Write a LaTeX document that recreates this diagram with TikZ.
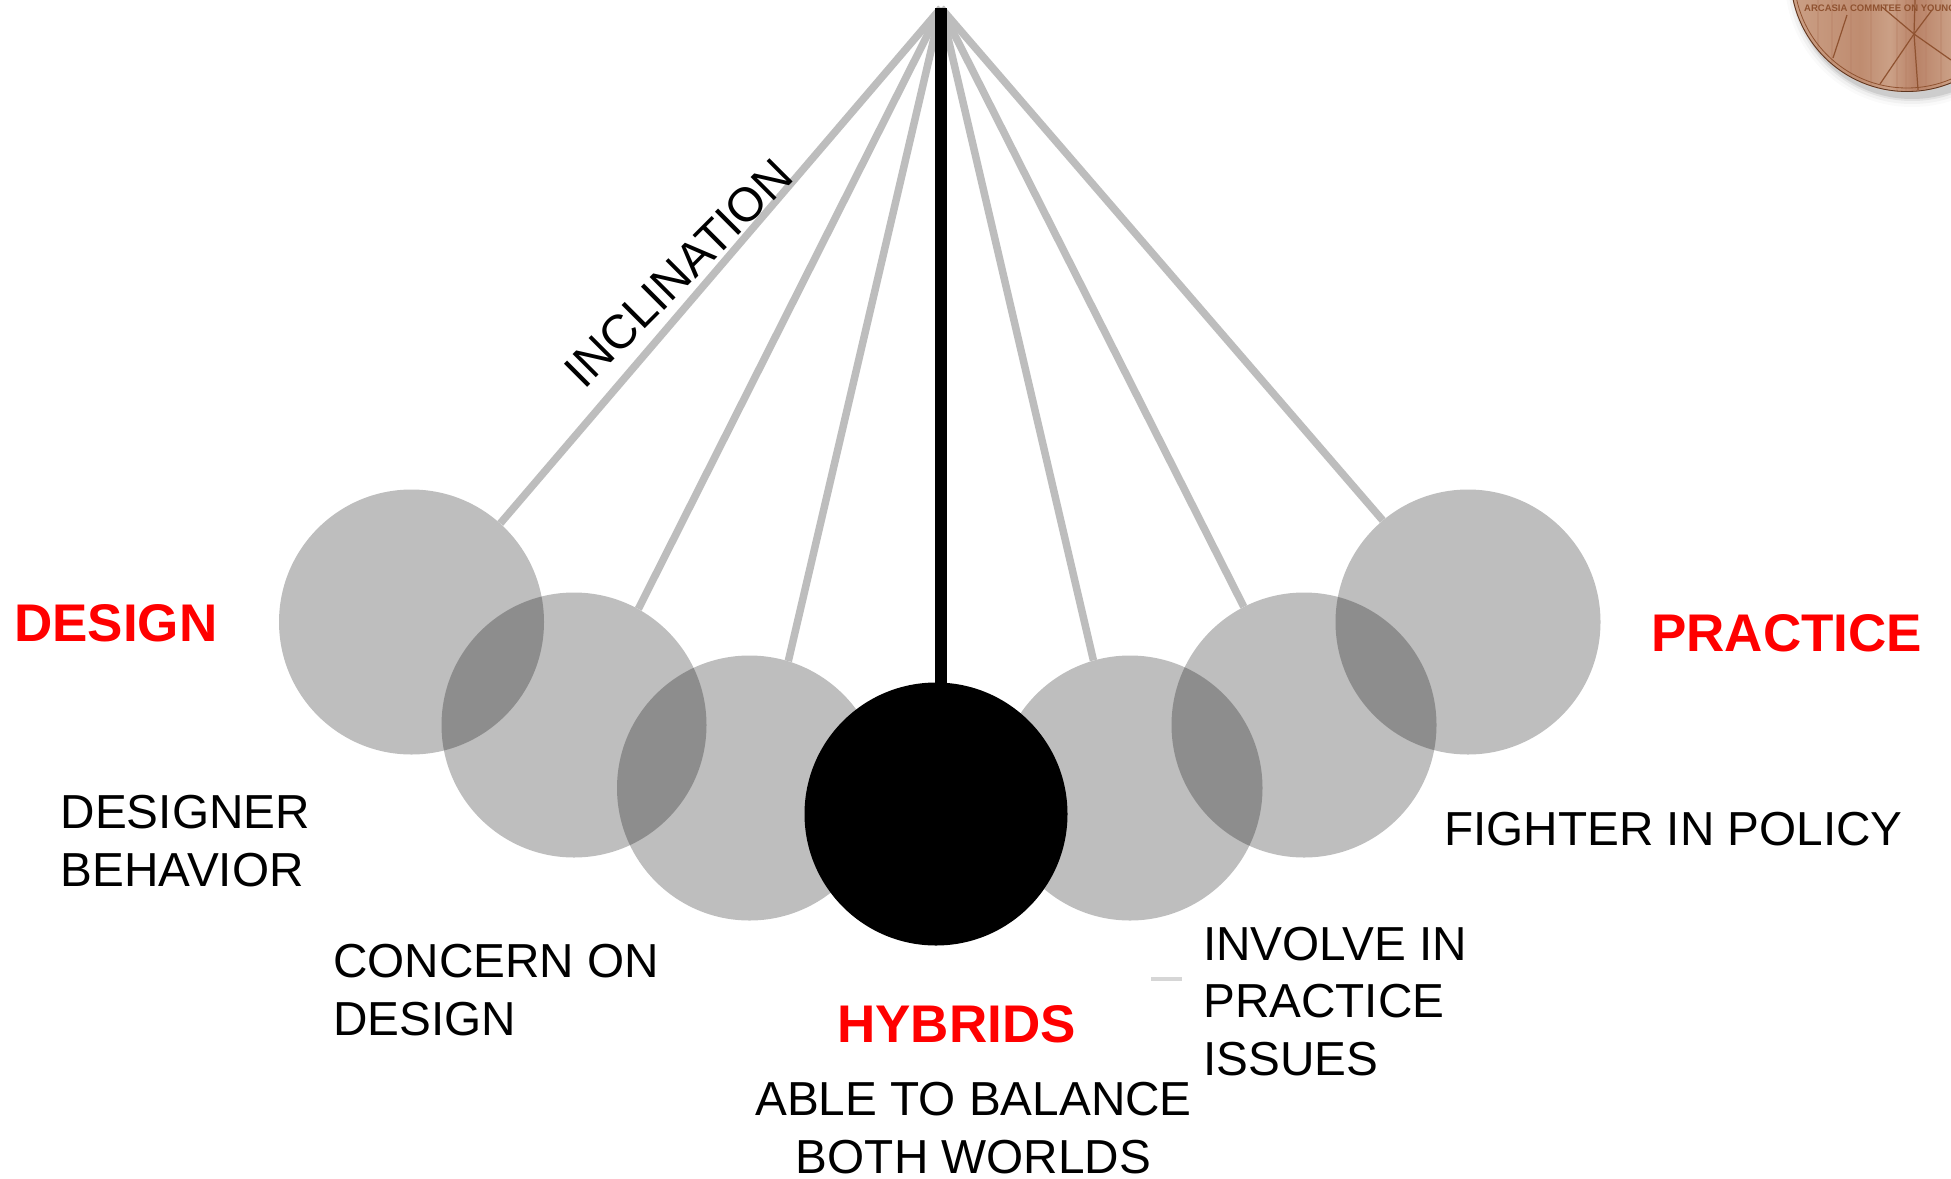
\documentclass[tikz,border=0pt]{standalone}
\usepackage{fontspec}
\setmainfont{Liberation Sans}
\definecolor{linegray}{gray}{0.74}
\definecolor{woodmid}{HTML}{BF8C70}
\definecolor{woodlight}{HTML}{CBA086}
\definecolor{wooddark}{HTML}{B98267}
\definecolor{woodline}{HTML}{8F5230}
\tikzset{
  x=1pt,y=-1pt,
  ball/.style={circle,minimum size=265pt,inner sep=0pt,fill=black,fill opacity=0.255,draw=none},
  blackball/.style={circle,minimum size=263pt,inner sep=0pt,fill=black,draw=none},
  rod/.style={line width=7.5pt,draw=linegray},
  blackrod/.style={line width=12pt,draw=black},
  lab/.style={font=\fontsize{47.7}{57.5}\selectfont,anchor=base west,inner sep=0pt,align=left,text=black},
  head/.style={font=\fontsize{53}{60}\selectfont\bfseries,anchor=base west,inner sep=0pt,text=red},
  cut/.style={line width=1.2pt,draw=woodline},
}
\begin{document}
\begin{tikzpicture}
\useasboundingbox (0,0) rectangle (1951,1178);
\fill[white] (0,0) rectangle (1951,1178);
% disc with shadow
\begin{scope}
\clip (0,0) rectangle (1951,1178);
\foreach \r/\o in {127/0.02,124/0.035,121/0.06,119/0.09}{
  \fill[black,opacity=\o] (1912,-20) circle[radius=\r];
}
\fill[woodmid] (1907,-25) circle[radius=117];
\begin{scope}
\clip (1907,-25) circle[radius=116];
\shade[left color=woodlight,right color=woodmid] (1790,-25) rectangle (1860,95);
\shade[left color=woodmid,right color=woodlight] (1860,-25) rectangle (1890,95);
\shade[left color=woodlight,right color=wooddark] (1890,-25) rectangle (1915,95);
\shade[left color=wooddark,right color=woodlight] (1915,-25) rectangle (1951,95);
\foreach \gx in {1818,1832,1851,1871,1897,1906,1926,1941}{
  \draw[wooddark,line width=1.5pt,opacity=0.4] (\gx,0) -- (\gx,95);
}
\node[inner sep=0pt,anchor=base west,text=woodline,font=\fontsize{9.5}{10}\selectfont\bfseries] (disctext) at (1804,11) {ARCASIA COMMITEE ON YOUNG};
\coordinate (hub) at (1914,34);
\coordinate (s1) at (1880,84);
\coordinate (s2) at (1918,90);
\coordinate (s3) at (1951,60);
\coordinate (s4) at (1915,0);
\coordinate (s5) at (1932,10);
\coordinate (s6) at (1882,7);
\coordinate (s7) at (1847,15);
\coordinate (s8) at (1833,58);
\foreach \e in {s1,s2,s3,s4,s5,s6}{\draw[cut] (hub) -- (\e);}
\draw[cut] (s7) -- (s8);
\draw[woodline,line width=0.8pt] (1907,-25) circle[radius=113];
\end{scope}
\draw[black!35!woodline,line width=0.8pt] (1907,-25) circle[radius=116.5];
\end{scope}
% pendulum
\coordinate (apex) at (941,8);
\coordinate (blacktop) at (941,700);
\node[ball] (c1) at (411.5,622) {};
\node[ball] (c2) at (574,725) {};
\node[ball] (c3) at (749.5,788) {};
\node[ball] (c5) at (1130,788) {};
\node[ball] (c6) at (1304,725) {};
\node[ball] (c7) at (1468,622) {};
\node[blackball] (c4) at (936,814) {};
\foreach \c/\a in {c1/48.7,c2/61.2,c3/73.9,c5/106.5,c6/117.9,c7/130.8}{\draw[rod] (apex) -- (\c.\a);}
\draw[blackrod] (apex) -- (blacktop);
\fill[gray!32] (1151,977) rectangle (1182,981);
% labels
\node[lab,rotate=45,anchor=base,font=\fontsize{47.7}{50}\selectfont] (incl) at (690,284.5) {INCLINATION};
\node[head] (design) at (14,641) {DESIGN};
\node[head] (practice) at (1651,651) {PRACTICE};
\node[head] (hybrids) at (837,1042) {HYBRIDS};
\node[lab] (beh) at (60.5,886) {DESIGNER\\BEHAVIOR};
\node[lab] (con) at (333,1035) {CONCERN ON\\DESIGN};
\node[lab] (fight) at (1444,845) {FIGHTER IN POLICY};
\node[lab] (inv) at (1203,1075) {INVOLVE IN\\PRACTICE\\ISSUES};
\node[lab,align=center,anchor=base] (able) at (973.5,1173) {ABLE TO BALANCE\\BOTH WORLDS};
\end{tikzpicture}
\end{document}
